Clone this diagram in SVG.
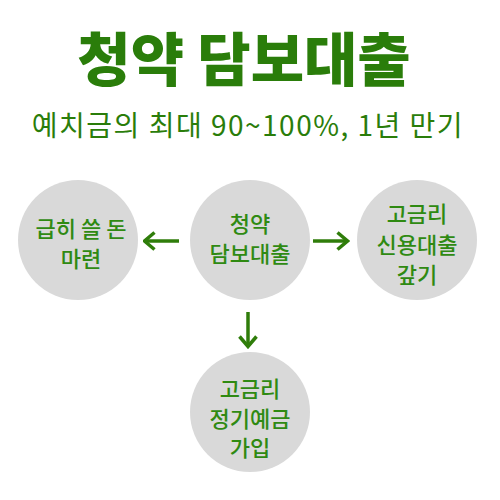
<svg xmlns="http://www.w3.org/2000/svg" width="500" height="500" viewBox="0 0 500 500">
<style>
.c{fill:#d9d9d9}
.t{font-family:"Noto Sans CJK KR","Noto Sans",sans-serif;font-size:22px;font-weight:500;fill:#2f8a12;text-anchor:middle}
.a{stroke:#2f7d0a;stroke-width:3.5;fill:none}
</style>
<defs>
<marker id="ah" viewBox="0 0 14 20" refX="12.5" refY="10" markerWidth="14" markerHeight="20" orient="auto" markerUnits="userSpaceOnUse">
<path d="M2,1.5 L12,10 L2,18.5" fill="none" stroke="#2f7d0a" stroke-width="3.5"/>
</marker>
</defs>
<rect width="500" height="500" fill="#fff"/>
<text x="244" y="81" font-family="'Noto Sans CJK KR',sans-serif" font-weight="900" font-size="58" fill="#2a7d0a" text-anchor="middle">청약 담보대출</text>
<text x="248" y="136" font-family="'Noto Sans CJK KR',sans-serif" font-weight="400" font-size="28" letter-spacing="1.5" fill="#2a7d0a" text-anchor="middle">예치금의 최대 90~100%, 1년 만기</text>
<g id="connectors">
<line class="a" x1="179" y1="241" x2="144" y2="241" marker-end="url(#ah)"/>
<line class="a" x1="313" y1="241" x2="348" y2="241" marker-end="url(#ah)"/>
<line class="a" x1="248" y1="312" x2="248" y2="347" marker-end="url(#ah)"/>
</g>
<g id="n1"><circle class="c" cx="78" cy="240" r="60"/><text class="t" x="81" y="237">급히 쓸 돈</text><text class="t" x="81" y="267">마련</text></g>
<g id="n2"><circle class="c" cx="250" cy="240" r="60"/><text class="t" x="250" y="232">청약</text><text class="t" x="250" y="262">담보대출</text></g>
<g id="n3"><circle class="c" cx="417" cy="240" r="60"/><text class="t" x="417" y="222">고금리</text><text class="t" x="417" y="253">신용대출</text><text class="t" x="417" y="283">갚기</text></g>
<g id="n4"><circle class="c" cx="250" cy="412" r="60"/><text class="t" x="250" y="397">고금리</text><text class="t" x="250" y="427">정기예금</text><text class="t" x="250" y="456">가입</text></g>
</svg>
